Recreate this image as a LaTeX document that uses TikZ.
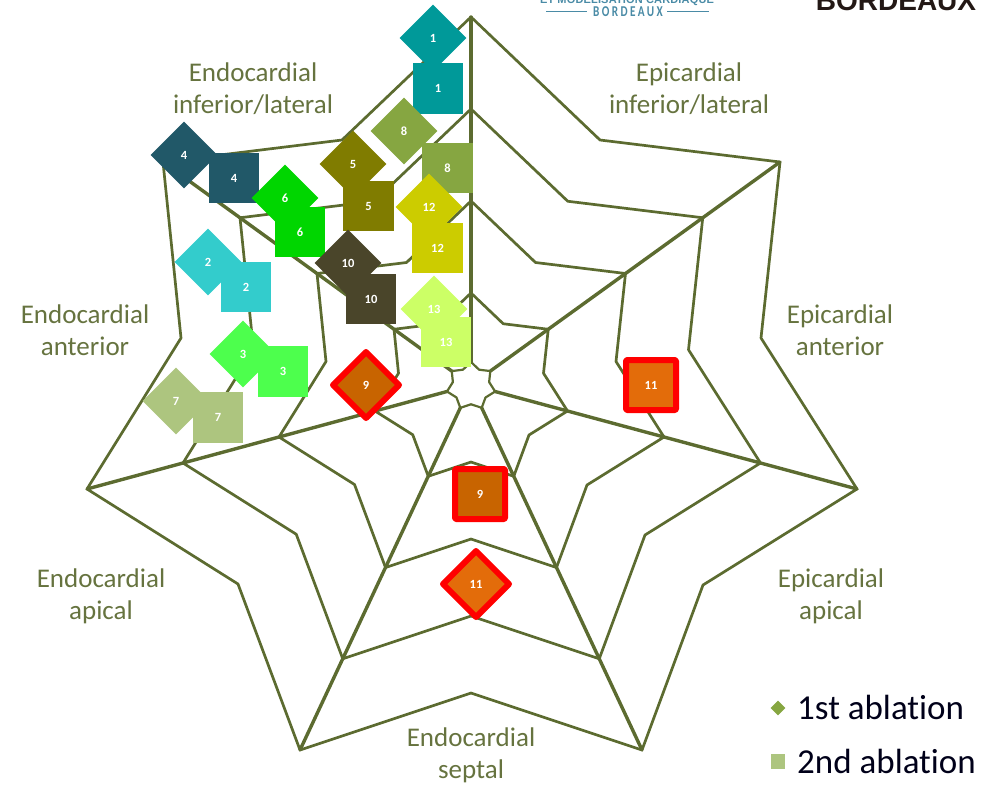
\documentclass[tikz,border=0pt]{standalone}
\usepackage{fontspec}
\setmainfont[Ligatures=NoCommon]{Carlito}
\newfontfamily\logofont{Liberation Sans}
\newfontfamily\logonarrow[FakeStretch=0.75,LetterSpace=16]{Carlito}
\usetikzlibrary{shapes.geometric}
\definecolor{olv}{HTML}{5C6B30}
\definecolor{lbl}{HTML}{66733F}
\definecolor{teal1}{HTML}{4A8BA6}
\definecolor{orangeA}{HTML}{C86400}
\definecolor{orangeB}{HTML}{E36C0A}
\tikzset{
  x=1pt,y=-1pt,
  spoke/.style={draw=olv,line width=3.4pt,line cap=round},
  ring/.style={draw=olv,line join=round},
  lab/.style={text=lbl,font=\fontsize{27}{32}\selectfont,align=center,inner sep=0pt},
  mk/.style={inner sep=0pt,text=white,font=\bfseries\fontsize{12.5}{13}\selectfont},
  sq/.style={mk,rectangle,minimum size=50.5pt},
  dia/.style={mk,diamond,aspect=1,minimum size=67pt},
  hotsq/.style={mk,rectangle,minimum size=50pt,draw=red,line width=6pt,line join=round,rounded corners=1pt},
  hotdia/.style={mk,diamond,aspect=1,minimum size=66pt,outer sep=0pt,draw=red,line width=6pt,line join=round},
  leg/.style={anchor=base west,inner sep=0pt,text=black!90!blue,font=\fontsize{35}{38}\selectfont}
}
\begin{document}
\begin{tikzpicture}
\useasboundingbox (0,0) rectangle (984,785);
% ---- grid: rings at 1, 3/4, 1/2, 1/4 and the small hub
\foreach \rn/\rf/\rw in {a/1/2.7,b/0.75/2.7,c/0.5/2.7,d/0.25/2.7,e/0.0625/2.2}{
  \foreach \vk/\ox/\oy in {1/0/-368,2/129/-245,3/309/-223,4/290/-47,5/386/104,6/232/200,7/171/365,8/0/308,9/-171/365,10/-233/199,11/-384/104,12/-290/-47,13/-308/-223,14/-129/-245}{
    \coordinate (\rn\vk) at ({471+\rf*\ox},{385+\rf*\oy});
  }
  \draw[ring,line width=\rw pt] (\rn1)--(\rn2)--(\rn3)--(\rn4)--(\rn5)--(\rn6)--(\rn7)--(\rn8)--(\rn9)--(\rn10)--(\rn11)--(\rn12)--(\rn13)--(\rn14)--cycle;
}
\foreach \vk in {1,3,5,7,9,11,13}{ \draw[spoke] (e\vk) -- (a\vk); }
% ---- labels
\node[lab] (l1) at (253,89) {Endocardial\\inferior/lateral};
\node[lab] (l2) at (689,89) {Epicardial\\inferior/lateral};
\node[lab] (l3) at (85,330) {Endocardial\\anterior};
\node[lab] (l4) at (840,330) {Epicardial\\anterior};
\node[lab] (l5) at (101,596) {Endocardial\\apical};
\node[lab] (l6) at (831,596) {Epicardial\\apical};
\node[lab] (l7) at (471,755) {Endocardial\\septal};
% ---- second ablation (squares)
\node[sq,fill={rgb,255:red,0;green,153;blue,153}] (s1) at (438,88.5) {1};
\node[sq,fill={rgb,255:red,51;green,204;blue,204}] (s2) at (246,287) {2};
\node[sq,fill={rgb,255:red,77;green,255;blue,77}] (s3) at (283,371.5) {3};
\node[sq,fill={rgb,255:red,33;green,88;blue,104}] (s4) at (234,178) {4};
\node[sq,fill={rgb,255:red,128;green,124;blue,0}] (s5) at (368.5,206) {5};
\node[sq,fill={rgb,255:red,0;green,214;blue,0}] (s6) at (300,232) {6};
\node[sq,fill={rgb,255:red,173;green,197;blue,127}] (s7) at (218,417.5) {7};
\node[sq,fill={rgb,255:red,134;green,166;blue,65}] (s8) at (447.5,168) {8};
\node[sq,fill={rgb,255:red,74;green,69;blue,42}] (s10) at (371,299) {10};
\node[sq,fill={rgb,255:red,204;green,204;blue,0}] (s12) at (437.5,248) {12};
% ---- first ablation (diamonds)
\node[dia,fill={rgb,255:red,0;green,153;blue,153}] (d1) at (433,38) {1};
\node[dia,fill={rgb,255:red,51;green,204;blue,204}] (d2) at (208,262) {2};
\node[dia,fill={rgb,255:red,77;green,255;blue,77}] (d3) at (243,354) {3};
\node[dia,fill={rgb,255:red,33;green,88;blue,104}] (d4) at (184,155) {4};
\node[dia,fill={rgb,255:red,128;green,124;blue,0}] (d5) at (353,164) {5};
\node[dia,fill={rgb,255:red,0;green,214;blue,0}] (d6) at (285,198) {6};
\node[dia,fill={rgb,255:red,173;green,197;blue,127}] (d7) at (176,401) {7};
\node[dia,fill={rgb,255:red,134;green,166;blue,65}] (d8) at (404,131) {8};
\node[dia,fill={rgb,255:red,74;green,69;blue,42}] (d10) at (348,263) {10};
\node[dia,fill={rgb,255:red,204;green,204;blue,0}] (d12) at (429,207) {12};
\node[dia,fill={rgb,255:red,204;green,255;blue,102}] (d13) at (434,309) {13};
\node[sq,fill={rgb,255:red,204;green,255;blue,102}] (s13) at (446,342) {13};
\node[hotdia,fill=orangeA] (d9) at (366,385) {9};
\node[hotsq,fill=orangeA] (s9) at (480,494) {9};
\node[hotsq,fill=orangeB] (s11) at (651,385) {11};
\node[hotdia,fill=orangeB] (d11) at (476,584) {11};
% ---- legend
\node[diamond,aspect=1,minimum size=15pt,inner sep=0pt,fill={rgb,255:red,134;green,166;blue,65}] (k1) at (778,708) {};
\node[rectangle,minimum size=14.5pt,inner sep=0pt,fill={rgb,255:red,173;green,197;blue,127}] (k2) at (778,761.5) {};
\node[leg] (t1) at (797,719) {1st ablation};
\node[leg] (t2) at (797,773) {2nd ablation};
% ---- logos cut by the top edge
\node[anchor=base,inner sep=0pt,text=teal1,font={\logofont\bfseries\fontsize{11}{12}\selectfont\addfontfeature{LetterSpace=1.5}}] (g1) at (627,3.5) {ET MODELISATION CARDIAQUE};
\node[anchor=base,inner sep=0pt,text=teal1,font={\logonarrow\bfseries\fontsize{15}{16}\selectfont}] (g2) at (628,16.5) {BORDEAUX};
\coordinate (g3) at (546,11.5);\coordinate (g4) at (587,11.5);
\coordinate (g5) at (667,11.5);\coordinate (g6) at (709,11.5);
\draw[teal1,line width=1.3pt] (g3)--(g4) (g5)--(g6);
\node[anchor=base,inner sep=0pt,text={rgb,255:red,35;green,24;blue,21},font={\logofont\bfseries\fontsize{28}{30}\selectfont}] (g7) at (896,10) {BORDEAUX};
\end{tikzpicture}
\end{document}
